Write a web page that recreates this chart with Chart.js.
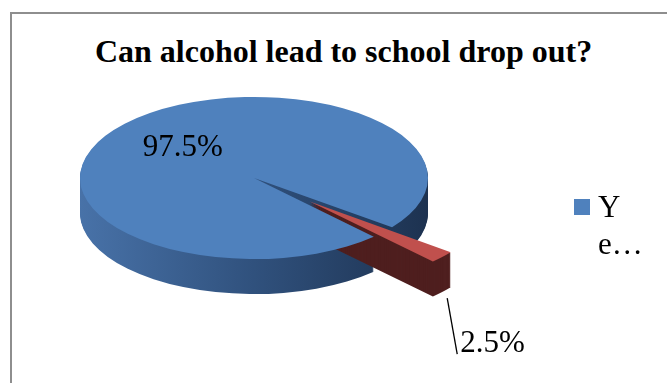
<!DOCTYPE html>
<html>
<head>
<meta charset="utf-8">
<script src="https://cdn.jsdelivr.net/npm/chart.js@4.4.0/dist/chart.umd.min.js"></script>
<style>
  html, body { margin: 0; padding: 0; background: #fff; overflow: hidden; }
  #quadro { position: relative; width: 667px; height: 383px; overflow: hidden; }
  #moldura {
    position: absolute; left: 10px; top: 12px; width: 720px; height: 420px;
    border: 2px solid #8e8e8e; box-sizing: border-box;
  }
  #titulo {
    position: absolute; left: 10px; top: 33px; width: 667px; text-align: center;
    font-family: "Liberation Serif", "Times New Roman", serif; font-weight: bold;
    font-size: 32px; line-height: 36px; color: #000;
  }
  #grafico { position: absolute; left: 0; top: 0; }
</style>
</head>
<body>
<div id="quadro">
  <div id="moldura"></div>
  <div id="titulo">Can alcohol lead to school drop out?</div>
  <canvas id="grafico" width="667" height="383"></canvas>
</div>
<script>
// Dados do gráfico
const categorias = ["Yes", "No"];
const valores = [97.5, 2.5];
const coresTopo = ["#4F81BD", "#C0504D"];

const fonteSerif = '"Liberation Serif", "Times New Roman", serif';

// Plugin que desenha a pizza "3D": achata e dá profundidade às fatias
const pizza3d = {
  id: "pizza3d",
  beforeDatasetsDraw(chart, args, opts) {
    const ctx = chart.ctx;
    const arcs = chart.getDatasetMeta(0).data;
    const k = opts.achatamento;

    const desenhar = (arc, i, dy, cor) => {
      const p = arc.getProps(["x", "y", "startAngle", "endAngle"]);
      const meio = (p.startAngle + p.endAngle) / 2;
      const ex = opts.explosao[i] || 0;
      ctx.save();
      ctx.translate(0, dy);
      ctx.translate(p.x + Math.cos(meio) * ex, p.y + Math.sin(meio) * ex * k);
      ctx.scale(1, k);
      ctx.translate(-p.x, -p.y);
      if (cor) {
        const original = arc.options;
        arc.options = Object.assign({}, original, { backgroundColor: cor });
        arc.draw(ctx);
        arc.options = original;
      } else {
        arc.draw(ctx);
      }
      ctx.restore();
    };

    // cor das laterais
    const a0 = arcs[0];
    const grad = ctx.createLinearGradient(a0.x - a0.outerRadius, 0, a0.x + a0.outerRadius, 0);
    grad.addColorStop(0, "#4872A8");
    grad.addColorStop(0.5, "#30517D");
    grad.addColorStop(1, "#1D3250");
    const lateral = [grad, "#4F1F1F"];

    // laterais primeiro, depois os topos
    arcs.forEach((arc, i) => {
      for (let dy = opts.profundidade; dy >= 1; dy--) desenhar(arc, i, dy, lateral[i]);
    });
    arcs.forEach((arc, i) => desenhar(arc, i, 0, null));
    return false;
  },
};

// Rótulos de porcentagem
const rotulosPizza = {
  id: "rotulosPizza",
  afterDraw(chart, args, opts) {
    const ctx = chart.ctx;
    const arcs = chart.getDatasetMeta(0).data;
    const pz = chart.options.plugins.pizza3d;
    const k = pz.achatamento;
    ctx.save();
    ctx.font = "31px " + fonteSerif;
    ctx.fillStyle = "#000";
    ctx.textBaseline = "middle";
    arcs.forEach((arc, i) => {
      const meio = (arc.startAngle + arc.endAngle) / 2;
      const ex = pz.explosao[i] || 0;
      const texto = valores[i] + "%";
      if (i === 0) {
        const d = arc.outerRadius * opts.fracaoDentro;
        ctx.textAlign = "center";
        ctx.fillText(texto, arc.x + Math.cos(meio) * d, arc.y + Math.sin(meio) * d * k);
      } else {
        // linha guia saindo da ponta da fatia destacada
        const off = arc.options.offset || 0;
        const d = ex + arc.outerRadius + off * 0.8;
        const px = arc.x + Math.cos(meio) * d;
        const py = arc.y + Math.sin(meio) * d * k + pz.profundidade + 4;
        const fx = px + opts.linha[0];
        const fy = py + opts.linha[1];
        ctx.strokeStyle = "#000";
        ctx.lineWidth = 1.3;
        ctx.beginPath();
        ctx.moveTo(px, py);
        ctx.lineTo(fx, fy);
        ctx.stroke();
        ctx.textAlign = "left";
        ctx.fillText(texto, fx + 3, fy - 10);
      }
    });
    ctx.restore();
  },
};

// quebra o texto da legenda como no Excel (coluna estreita)
function quebrarTexto(ctx, texto, larguraMax, maxLinhas) {
  const linhas = [];
  let atual = "";
  for (const ch of texto) {
    if (atual && ctx.measureText(atual + ch).width > larguraMax) {
      linhas.push(atual);
      atual = ch;
    } else {
      atual += ch;
    }
  }
  if (atual) linhas.push(atual);
  if (linhas.length > maxLinhas) {
    const cortadas = linhas.slice(0, maxLinhas);
    cortadas[maxLinhas - 1] += "\u2026";
    return cortadas;
  }
  return linhas;
}

// Legenda desenhada à mão
const legendaEstreita = {
  id: "legendaEstreita",
  afterDraw(chart, args, opts) {
    const ctx = chart.ctx;
    ctx.save();
    ctx.font = "31px " + fonteSerif;
    ctx.textBaseline = "alphabetic";
    ctx.textAlign = "left";
    let y = opts.y;
    const cores = chart.data.datasets[0].backgroundColor;
    chart.data.labels.forEach((rotulo, i) => {
      const linhas = quebrarTexto(ctx, rotulo, opts.larguraTexto, 2);
      const altura = linhas.length * opts.alturaLinha;
      if (y + altura - opts.y > opts.alturaMax) return;
      ctx.fillStyle = cores[i];
      ctx.fillRect(opts.x, y + 2, 16, 16);
      ctx.fillStyle = "#000";
      linhas.forEach((l, j) => ctx.fillText(l, opts.x + 24, y + 20 + j * opts.alturaLinha));
      y += altura;
    });
    ctx.restore();
  },
};

const ctxGrafico = document.getElementById("grafico").getContext("2d");
const grafico = new Chart(ctxGrafico, {
  type: "pie",
  data: {
    labels: categorias,
    datasets: [
      {
        data: valores,
        backgroundColor: coresTopo,
        borderWidth: 0,
        offset: [0, 20],
      },
    ],
  },
  options: {
    responsive: false,
    animation: false,
    events: [],
    rotation: 136.5,
    radius: 174,
    layout: { padding: { left: 0, right: 159, top: 0, bottom: 27 } },
    plugins: {
      legend: { display: false },
      tooltip: { enabled: false },
      title: { display: false },
      pizza3d: { achatamento: 0.466, profundidade: 35, explosao: [0, 70] },
      rotulosPizza: { fracaoDentro: 0.55, linha: [10, 56] },
      legendaEstreita: { x: 574, y: 197, larguraTexto: 24, alturaLinha: 37, alturaMax: 80 },
    },
  },
  plugins: [pizza3d, rotulosPizza, legendaEstreita],
});
</script>
</body>
</html>
